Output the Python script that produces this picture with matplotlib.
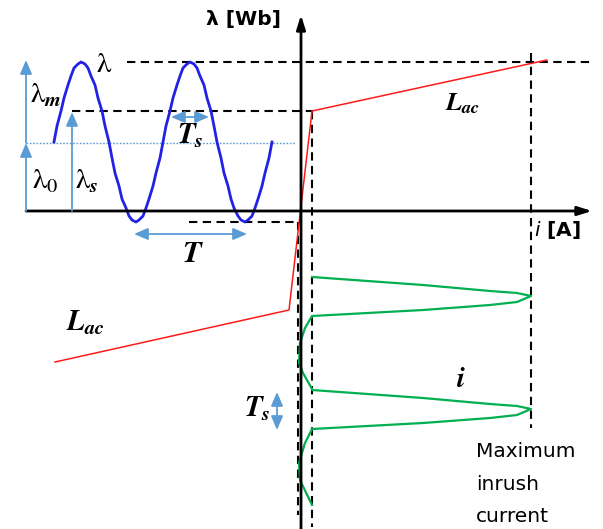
import matplotlib
matplotlib.use("Agg")
import matplotlib.pyplot as plt

plt.rcParams['mathtext.fontset'] = 'custom'
plt.rcParams['mathtext.it'] = 'STIXGeneral:italic:bold'
plt.rcParams['mathtext.rm'] = 'STIXGeneral'
plt.rcParams['mathtext.bf'] = 'STIXGeneral:bold'
plt.rcParams['font.family'] = ['DejaVu Sans']

# ---- data (diagram coordinates: origin at axes crossing) ----
# flux linkage (blue sinusoid) vs time
flux_t = [-247, -244, -240, -237, -233, -230, -227, -223, -220, -216, -213, -210, -206,
          -203, -199, -196, -192, -189, -186, -182, -179, -175, -172, -169, -165, -162,
          -158, -155, -152, -148, -145, -141, -138, -135, -131, -128, -124, -121, -118,
          -114, -111, -107, -104, -101, -97, -94, -90, -87, -84, -80, -77, -73, -70,
          -67, -63, -60, -56, -53, -49, -46, -43, -39, -36, -32, -29]
flux_v = [69, 85, 100, 113, 126, 135, 143, 147, 149, 147, 143, 135, 126, 113, 100, 85,
          69, 53, 38, 25, 12, 3, -5, -9, -11, -9, -5, 3, 12, 25, 38, 53,
          69, 85, 100, 113, 126, 135, 143, 147, 149, 147, 143, 135, 126, 113, 100, 85,
          69, 53, 38, 25, 12, 3, -5, -9, -11, -9, -5, 3, 12, 25, 38, 53, 69]

# lambda-i characteristic (red)
char_i = [-246, -12, 11, 246]
char_lam = [-151, -99, 100, 151]

# inrush current (green) vs time (time running downward)
cur_i = [11, 122, 189, 216, 230, 216, 189, 122, 11, 4, -1, -2, 2, 11,
         11, 122, 189, 216, 230, 216, 189, 122, 11, 9, 4, -2, -1, 11]
cur_t = [-66, -74, -80, -82, -85, -91, -94, -99, -105, -117, -132, -152, -162, -178,
         -179, -187, -193, -195, -198, -204, -207, -212, -218, -222, -232, -252, -269, -294]

# reference levels
lam_peak = 149
lam_knee = 100
lam_0 = 68
lam_min = -11
i_knee = 11
i_max = 230

fig = plt.figure(figsize=(6.03, 5.29), dpi=100)
ax = fig.add_axes([0, 0, 1, 1])
ax.set_xlim(-301, 302)
ax.set_ylim(-318, 211)
ax.axis('off')

blue_arrow = '#5b9bd5'
dash = (0, (4, 2.6))

# axes with arrows
ax.annotate('', xy=(291, 0), xytext=(-275, 0),
            arrowprops=dict(arrowstyle='-|>,head_length=0.7,head_width=0.22',
                            color='black', lw=2.0, mutation_scale=12, shrinkA=0, shrinkB=0))
ax.annotate('', xy=(0, 196), xytext=(0, -318),
            arrowprops=dict(arrowstyle='-|>,head_length=0.7,head_width=0.22',
                            color='black', lw=2.0, mutation_scale=12, shrinkA=0, shrinkB=0))

# dashed guide lines
ax.plot([-174, 292], [lam_peak, lam_peak], color='black', lw=1.5, ls=dash)
ax.plot([-229, 12], [lam_knee, lam_knee], color='black', lw=1.5, ls=dash)
ax.plot([-112, -1], [lam_min, lam_min], color='black', lw=1.5, ls=dash)
ax.plot([i_knee, i_knee], [lam_knee, -316], color='black', lw=1.5, ls=dash)
ax.plot([-3, -3], [lam_min, -304], color='black', lw=1.5, ls=dash)
ax.plot([i_max, i_max], [158, -217], color='black', lw=1.5, ls=dash)

# lambda_0 dotted line
ax.plot([-275, -5], [lam_0, lam_0], color=blue_arrow, lw=1.0, ls=(0, (1.2, 1.2)))

# curves
ax.plot(flux_t, flux_v, color='#2222e6', lw=2.0, solid_joinstyle='round')
ax.plot(char_i, char_lam, color='#ff1a1a', lw=1.1)
ax.plot(cur_i, cur_t, color='#00b050', lw=1.6)

# blue arrows
def arr(x0, y0, x1, y1, style='-|>'):
    ax.annotate('', xy=(x1, y1), xytext=(x0, y0),
                arrowprops=dict(arrowstyle=style + ',head_length=0.7,head_width=0.3',
                                color=blue_arrow, lw=1.3, mutation_scale=12,
                                shrinkA=0, shrinkB=0))

arr(-275, 0, -275, lam_0)
arr(-275, lam_0, -275, 151)
arr(-229, 0, -229, 99)
arr(-130, 94, -92, 94, '<|-|>')
arr(-167, -23, -54, -23, '<|-|>')
arr(-24, -181, -24, -219, '<|-|>')

# labels
ax.text(-57, 192, 'λ [Wb]', fontsize=14.5, fontweight='bold', ha='center', va='center')
ax.text(256, -19, r'$i$ [A]', fontsize=14.5, fontweight='bold', ha='center', va='center',
        math_fontfamily='dejavusans')
ax.text(-197, 147, r'$\mathrm{\lambda}$', fontsize=21, ha='center', va='center')
ax.text(-255, 116, r'$\mathrm{\lambda}_m$', fontsize=21, ha='center', va='center')
ax.text(-256, 30, r'$\mathrm{\lambda}_0$', fontsize=21, ha='center', va='center')
ax.text(-214, 30, r'$\mathrm{\lambda}_s$', fontsize=21, ha='center', va='center')
ax.text(-111, 75, r'$T_s$', fontsize=21, ha='center', va='center')
ax.text(-108, -43, r'$T$', fontsize=22, ha='center', va='center')
ax.text(162, 108, r'$L_{ac}$', fontsize=19, ha='center', va='center')
ax.text(-216, -112, r'$L_{ac}$', fontsize=21, ha='center', va='center')
ax.text(-44, -198, r'$T_s$', fontsize=21, ha='center', va='center')
ax.text(160, -168, r'$i$', fontsize=21, ha='center', va='center')
for txt, yb in [('Maximum', -246), ('inrush', -279), ('current', -311)]:
    ax.text(175, yb, txt, fontsize=14.5, ha='left', va='baseline')

fig.savefig('out.png', dpi=100)
